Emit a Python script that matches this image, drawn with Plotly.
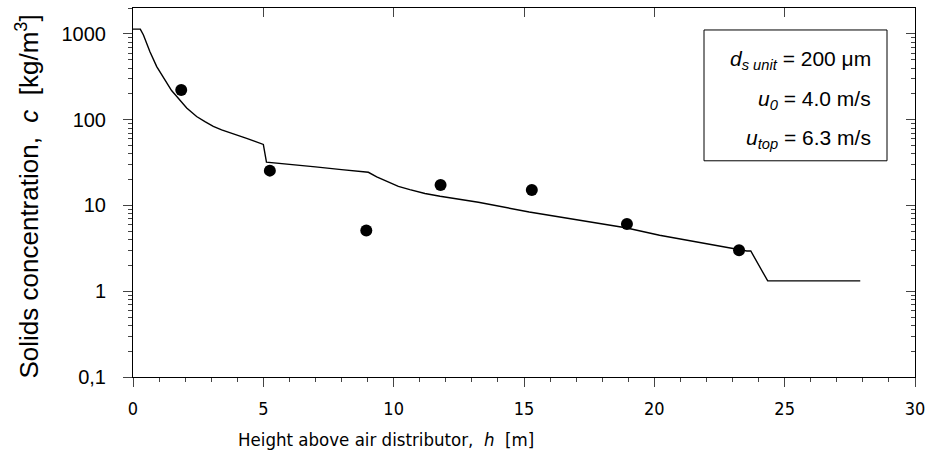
import plotly.graph_objects as go

# Measured data (dots)
h_meas = [1.85, 5.25, 8.95, 11.8, 15.3, 18.95, 23.25]
c_meas = [222, 25.5, 5.1, 17.3, 15.2, 6.1, 3.0]

# Model curve
h_model = [0.0, 0.28, 0.40, 0.525, 0.65, 0.91, 1.10, 1.29, 1.48, 1.68, 1.86, 2.06,
           2.25, 2.44, 2.76, 3.08, 3.40, 3.72, 4.04, 4.36, 4.68, 5.0, 5.12, 6.0, 7.0,
           8.0, 9.03, 9.35, 9.73, 10.18, 10.62, 11.2, 11.78, 13.25, 15.2, 17.0, 18.9,
           20.2, 22.0, 23.03, 23.55, 23.7, 24.35, 27.9]
c_model = [1140, 1140, 973, 780, 622, 417, 333, 267, 219, 187, 159, 137,
           122, 109, 95, 83.5, 76, 70, 65, 60.5, 56, 51.5, 32, 30.3, 28.2,
           26.2, 24.4, 21.6, 19.2, 16.7, 15.3, 13.8, 12.8, 10.9, 8.4, 6.9, 5.5,
           4.5, 3.6, 3.14, 2.95, 2.95, 1.32, 1.32]

fig = go.Figure()
fig.add_trace(go.Scatter(x=h_model, y=c_model, mode="lines",
                         line=dict(color="black", width=1.4), showlegend=False))
fig.add_trace(go.Scatter(x=h_meas, y=c_meas, mode="markers",
                         marker=dict(color="black", size=12), showlegend=False))
# invisible trace for mirrored (top/right) axes
fig.add_trace(go.Scatter(x=[1], y=[1], xaxis="x2", yaxis="y2", mode="markers",
                         marker=dict(opacity=0), showlegend=False, hoverinfo="skip"))

NARROW = "DejaVu Sans Condensed, Liberation Sans, Arial"
YR = [-1, 3.303]
fig.update_layout(
    width=926, height=457,
    margin=dict(l=133, r=11, t=8, b=80, autoexpand=False),
    separators=",.",
    plot_bgcolor="white", paper_bgcolor="white",
    font=dict(family="Liberation Sans, Arial, sans-serif", color="black"),
    xaxis=dict(range=[0, 30], tickmode="linear", tick0=0, dtick=5, automargin=False,
               ticks="outside", ticklen=9, ticklabeloverflow="allow",
               ticklabelstandoff=6,
               showline=True, mirror=False, linecolor="black", linewidth=1,
               showgrid=False, zeroline=False,
               tickfont=dict(family=NARROW, size=18),
               minor=dict(tick0=0, dtick=1, ticks="outside", ticklen=4, showgrid=False)),
    xaxis2=dict(range=[0, 30], overlaying="x", side="top", tickmode="linear", tick0=0,
                dtick=5, ticks="inside", ticklen=9, showticklabels=False, automargin=False,
                showline=True, linecolor="black", linewidth=1,
                showgrid=False, zeroline=False),
    yaxis=dict(type="log", range=YR, tickmode="linear", tick0=0, dtick=1,
               ticks="outside", ticklen=9, showline=True, mirror=False, automargin=False,
               linecolor="black", linewidth=1, showgrid=False, zeroline=False,
               ticklabelstandoff=13,
               tickfont=dict(size=20),
               minor=dict(dtick="D1", ticks="outside", ticklen=4, showgrid=False)),
    yaxis2=dict(type="log", range=YR, overlaying="y", side="right", tickmode="linear",
                tick0=0, dtick=1, ticks="inside", ticklen=9, showticklabels=False,
                showline=True, linecolor="black", linewidth=1, automargin=False,
                showgrid=False, zeroline=False,
                minor=dict(dtick="D1", ticks="inside", ticklen=4, showgrid=False)),
)

# Axis titles
fig.add_annotation(xref="paper", yref="paper", x=0, y=0.5, xshift=-105, yshift=-4,
                   xanchor="center", yanchor="middle", textangle=-90, showarrow=False,
                   text="Solids concentration,  <i>c</i>  [kg/m<sup>3</sup>]",
                   font=dict(size=26))
fig.add_annotation(xref="x", yref="paper", x=9.7, y=0, yshift=-62,
                   xanchor="center", yanchor="middle", showarrow=False,
                   text="Height above air distributor,  <i>h</i>  [m]",
                   font=dict(family=NARROW, size=18.5))

# Info box
fig.add_shape(type="rect", xref="paper", yref="paper",
              x0=(704 - 133) / 782, x1=(887 - 133) / 782,
              y0=(377.5 - 161) / 369.5, y1=(377.5 - 30) / 369.5,
              line=dict(color="black", width=1), fillcolor="white", layer="above")
box_lines = ["<i>d</i><sub><i>s unit</i></sub> = 200 μm",
             "<i>u</i><sub><i>0</i></sub> = 4.0 m/s",
             "<i>u</i><sub><i>top</i></sub> = 6.3 m/s"]
box_y = [60, 100, 139]
for t, yy in zip(box_lines, box_y):
    fig.add_annotation(xref="paper", yref="paper", x=(873 - 133) / 782,
                       y=(377.5 - yy) / 369.5, xanchor="right", yanchor="middle",
                       showarrow=False, text=t, font=dict(size=21))

fig.write_html("out.html")
